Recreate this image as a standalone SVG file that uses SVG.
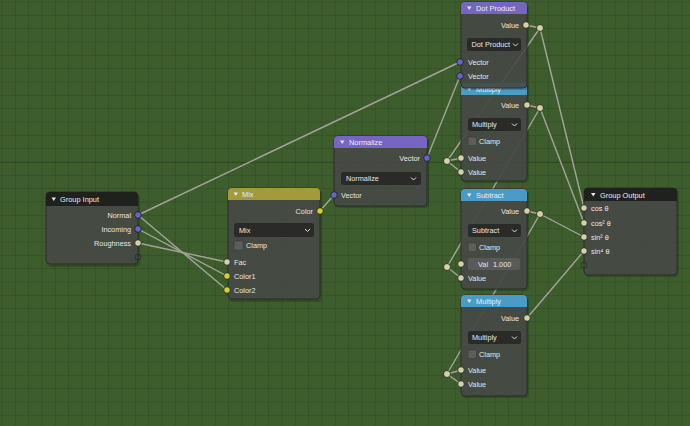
<svg xmlns="http://www.w3.org/2000/svg" width="690" height="426" viewBox="0 0 690 426">
<defs>
<pattern id="grid" x="1.5" y="1.5" width="13.333" height="13.333" patternUnits="userSpaceOnUse">
<rect width="13.333" height="13.333" fill="#3e5d2c"/>
<path d="M0 0.5H13.333M0.5 0V13.333" stroke="#36512a" stroke-width="1"/>
</pattern>
<style>
.body{fill:#474a46;fill-opacity:0.92;stroke:#2c2e2b;stroke-width:1}
.shadow{fill:#000;opacity:0.18}
.hdr-grp{fill:#1f211e}
.hdr-col{fill:#a19b3c}
.hdr-vec{fill:#7466c2}
.hdr-math{fill:#4b9bc7}
.t{font-family:"Liberation Sans",Arial,sans-serif;font-size:7.3px;fill:#e6e6e6}
.h{font-family:"Liberation Sans",Arial,sans-serif;font-size:7.4px;fill:#eeeeee}
.r{text-anchor:end}
.tri{fill:#e8e8e8}
.dd{fill:#2a2b29}
.chev{fill:none;stroke:#e0e0e0;stroke-width:1}
.cb{fill:#5d5e5c;stroke:#3a3a3a;stroke-width:0.6}
.fld{fill:#5a5b59}
.sv{fill:#6464cc;stroke:#1c1c1c;stroke-width:0.8}
.sf{fill:#d2d2a8;stroke:#1c1c1c;stroke-width:0.8}
.sc{fill:#d0d02e;stroke:#1c1c1c;stroke-width:0.8}
.se{fill:none;stroke:#2a2a2a;stroke-width:0.8}
.rr{fill:#d2d2a8;stroke:#1c1c1c;stroke-width:0.8}
.lk{stroke:#a3a39c;stroke-width:1.4;fill:none;stroke-linecap:round}
</style>
</defs>
<rect width="690" height="426" fill="url(#grid)"/>
<path d="M0 162.5H690" stroke="#2f4825" stroke-width="1"/>

<g id="connectors">
<line class="lk" x1="138" y1="215" x2="460" y2="62"/>
<line class="lk" x1="138" y1="215" x2="227" y2="290"/>
<line class="lk" x1="138" y1="229" x2="227" y2="276"/>
<line class="lk" x1="138" y1="243" x2="227" y2="262"/>
<line class="lk" x1="320" y1="211" x2="334" y2="195"/>
<line class="lk" x1="427" y1="158" x2="460" y2="76"/>
<line class="lk" x1="526" y1="25" x2="540" y2="28"/>
<line class="lk" x1="540" y1="28" x2="447" y2="161"/>
<line class="lk" x1="540" y1="28" x2="584" y2="208"/>
<line class="lk" x1="447" y1="161" x2="461" y2="158"/>
<line class="lk" x1="447" y1="161" x2="461" y2="172"/>
<line class="lk" x1="527" y1="105" x2="540" y2="108"/>
<line class="lk" x1="540" y1="108" x2="447" y2="267"/>
<line class="lk" x1="540" y1="108" x2="584" y2="223"/>
<line class="lk" x1="447" y1="267" x2="461" y2="278"/>
<line class="lk" x1="527" y1="211" x2="540" y2="214"/>
<line class="lk" x1="540" y1="214" x2="584" y2="237"/>
<line class="lk" x1="540" y1="214" x2="447" y2="374"/>
<line class="lk" x1="447" y1="374" x2="461" y2="370"/>
<line class="lk" x1="447" y1="374" x2="461" y2="384"/>
<line class="lk" x1="527" y1="318" x2="584" y2="251"/>
</g>

<g id="group-input">
<rect class="shadow" x="47" y="194" width="93" height="73" rx="4"/>
<rect class="body" x="46" y="192" width="92" height="72" rx="4"/>
<path class="hdr-grp" d="M50 192H134A4 4 0 0 1 138 196V206H46V196A4 4 0 0 1 50 192Z"/>
<polygon class="tri" points="51.5,197.5 56,197.5 53.75,201"/>
<text class="h" x="60" y="202">Group Input</text>
<text class="t r" x="131" y="218">Normal</text>
<text class="t r" x="131" y="232">Incoming</text>
<text class="t r" x="131" y="246">Roughness</text>
<circle class="sv" cx="138" cy="215" r="3.3"/>
<circle class="sv" cx="138" cy="229" r="3.3"/>
<circle class="sf" cx="138" cy="243" r="3.3"/>
<circle class="se" cx="138" cy="257" r="3"/>
</g>

<g id="mix">
<rect class="shadow" x="229" y="190" width="93" height="112" rx="4"/>
<rect class="body" x="228" y="188" width="92" height="111" rx="4"/>
<path class="hdr-col" d="M232 188H316A4 4 0 0 1 320 192V200H228V192A4 4 0 0 1 232 188Z"/>
<polygon class="tri" points="233.5,192.5 238,192.5 235.75,196"/>
<text class="h" x="242" y="197">Mix</text>
<text class="t r" x="313" y="214">Color</text>
<rect class="dd" x="234" y="223" width="80" height="14" rx="2.5"/>
<text class="t" x="239" y="232.5">Mix</text>
<path class="chev" d="M305 229L307.5 231.5L310 229"/>
<rect class="cb" x="234" y="241" width="9" height="9" rx="1.5"/>
<text class="t" x="246" y="248">Clamp</text>
<text class="t" x="234" y="265">Fac</text>
<text class="t" x="234" y="279">Color1</text>
<text class="t" x="234" y="293">Color2</text>
<circle class="sc" cx="320" cy="211" r="3.3"/>
<circle class="sf" cx="227" cy="262" r="3.3"/>
<circle class="sc" cx="227" cy="276" r="3.3"/>
<circle class="sc" cx="227" cy="290" r="3.3"/>
</g>

<g id="normalize">
<rect class="shadow" x="335" y="138" width="94" height="70" rx="4"/>
<rect class="body" x="334" y="136" width="93" height="70" rx="4"/>
<path class="hdr-vec" d="M338 136H423A4 4 0 0 1 427 140V148H334V140A4 4 0 0 1 338 136Z"/>
<polygon class="tri" points="340,140.5 344.5,140.5 342.25,144"/>
<text class="h" x="349" y="145">Normalize</text>
<text class="t r" x="420" y="161">Vector</text>
<rect class="dd" x="341" y="172" width="80" height="13" rx="2.5"/>
<text class="t" x="346" y="181">Normalize</text>
<path class="chev" d="M411 177.5L413.5 180L416 177.5"/>
<text class="t" x="341" y="198">Vector</text>
<circle class="sv" cx="427" cy="158" r="3.3"/>
<circle class="sv" cx="334" cy="195" r="3.3"/>
</g>

<g id="multiply-1">
<rect class="shadow" x="462" y="85" width="67" height="98" rx="4"/>
<rect class="body" x="461" y="83" width="66" height="98" rx="4"/>
<path class="hdr-math" d="M465 83H523A4 4 0 0 1 527 87V95H461V87A4 4 0 0 1 465 83Z"/>
<polygon class="tri" points="467,87.5 471.5,87.5 469.25,91"/>
<text class="h" x="476" y="92">Multiply</text>
<text class="t r" x="519" y="108">Value</text>
<rect class="dd" x="468" y="118" width="53" height="13" rx="2.5"/>
<text class="t" x="472" y="127">Multiply</text>
<path class="chev" d="M512 123.5L514.5 126L517 123.5"/>
<rect class="cb" x="468" y="137" width="8.5" height="8.5" rx="1.5"/>
<text class="t" x="479" y="144">Clamp</text>
<text class="t" x="468" y="161">Value</text>
<text class="t" x="468" y="175">Value</text>
<circle class="sf" cx="527" cy="105" r="3.3"/>
<circle class="sf" cx="461" cy="158" r="3.3"/>
<circle class="sf" cx="461" cy="172" r="3.3"/>
</g>

<g id="dot-product">
<rect class="shadow" x="462" y="4" width="67" height="86" rx="4"/>
<rect class="body" x="461" y="2" width="66" height="86" rx="4" style="fill-opacity:0.86"/>
<path class="hdr-vec" d="M465 2H523A4 4 0 0 1 527 6V14H461V6A4 4 0 0 1 465 2Z"/>
<polygon class="tri" points="467,6.5 471.5,6.5 469.25,10"/>
<text class="h" x="476" y="11">Dot Product</text>
<text class="t r" x="519" y="28">Value</text>
<rect class="dd" x="467" y="38" width="54" height="13" rx="2.5"/>
<text class="t" x="471.5" y="47">Dot Product</text>
<path class="chev" d="M513 43.5L515.5 46L518 43.5"/>
<text class="t" x="468" y="65">Vector</text>
<text class="t" x="468" y="79">Vector</text>
<circle class="sf" cx="526" cy="25" r="3.3"/>
<circle class="sv" cx="460" cy="62" r="3.3"/>
<circle class="sv" cx="460" cy="76" r="3.3"/>
</g>

<g id="subtract">
<rect class="shadow" x="462" y="191" width="67" height="100" rx="4"/>
<rect class="body" x="461" y="189" width="66" height="100" rx="4"/>
<path class="hdr-math" d="M465 189H523A4 4 0 0 1 527 193V201H461V193A4 4 0 0 1 465 189Z"/>
<polygon class="tri" points="467,193.5 471.5,193.5 469.25,197"/>
<text class="h" x="476" y="198">Subtract</text>
<text class="t r" x="519" y="214">Value</text>
<rect class="dd" x="468" y="224" width="53" height="13" rx="2.5"/>
<text class="t" x="472" y="233">Subtract</text>
<path class="chev" d="M512 229.5L514.5 232L517 229.5"/>
<rect class="cb" x="468" y="243" width="8.5" height="8.5" rx="1.5"/>
<text class="t" x="479" y="250">Clamp</text>
<rect class="fld" x="468" y="258" width="52" height="12" rx="2.5"/>
<text class="t" x="478" y="266.5">Val</text>
<text class="t" x="493" y="266.5">1.000</text>
<text class="t" x="468" y="281">Value</text>
<circle class="sf" cx="527" cy="211" r="3.3"/>
<circle class="sf" cx="461" cy="264" r="3.3"/>
<circle class="sf" cx="461" cy="278" r="3.3"/>
</g>

<g id="multiply-2">
<rect class="shadow" x="462" y="297" width="67" height="101" rx="4"/>
<rect class="body" x="461" y="295" width="66" height="101" rx="4"/>
<path class="hdr-math" d="M465 295H523A4 4 0 0 1 527 299V307H461V299A4 4 0 0 1 465 295Z"/>
<polygon class="tri" points="467,299.5 471.5,299.5 469.25,303"/>
<text class="h" x="476" y="304">Multiply</text>
<text class="t r" x="519" y="321">Value</text>
<rect class="dd" x="468" y="331" width="53" height="13" rx="2.5"/>
<text class="t" x="472" y="340">Multiply</text>
<path class="chev" d="M512 336.5L514.5 339L517 336.5"/>
<rect class="cb" x="468" y="350" width="8.5" height="8.5" rx="1.5"/>
<text class="t" x="479" y="357">Clamp</text>
<text class="t" x="468" y="373">Value</text>
<text class="t" x="468" y="387">Value</text>
<circle class="sf" cx="527" cy="318" r="3.3"/>
<circle class="sf" cx="461" cy="370" r="3.3"/>
<circle class="sf" cx="461" cy="384" r="3.3"/>
</g>

<g id="group-output">
<rect class="shadow" x="585" y="190" width="94" height="87" rx="4"/>
<rect class="body" x="584" y="188" width="93" height="87" rx="4"/>
<path class="hdr-grp" d="M588 188H673A4 4 0 0 1 677 192V201H584V192A4 4 0 0 1 588 188Z"/>
<polygon class="tri" points="591,193 595.5,193 593.25,196.5"/>
<text class="h" x="600" y="197.5">Group Output</text>
<text class="t" x="591" y="211">cos θ</text>
<text class="t" x="591" y="226">cos² θ</text>
<text class="t" x="591" y="240">sin² θ</text>
<text class="t" x="591" y="254">sin⁴ θ</text>
<circle class="sf" cx="584" cy="208" r="3.3"/>
<circle class="sf" cx="584" cy="223" r="3.3"/>
<circle class="sf" cx="584" cy="237" r="3.3"/>
<circle class="sf" cx="584" cy="251" r="3.3"/>
<circle class="se" cx="584" cy="265" r="3"/>
</g>

<g id="reroutes">
<circle id="reroute-1" class="rr" cx="540" cy="28" r="3.5"/>
<circle id="reroute-2" class="rr" cx="447" cy="161" r="3.5"/>
<circle id="reroute-3" class="rr" cx="540" cy="108" r="3.5"/>
<circle id="reroute-4" class="rr" cx="447" cy="267" r="3.5"/>
<circle id="reroute-5" class="rr" cx="540" cy="214" r="3.5"/>
<circle id="reroute-6" class="rr" cx="447" cy="374" r="3.5"/>
</g>
</svg>
